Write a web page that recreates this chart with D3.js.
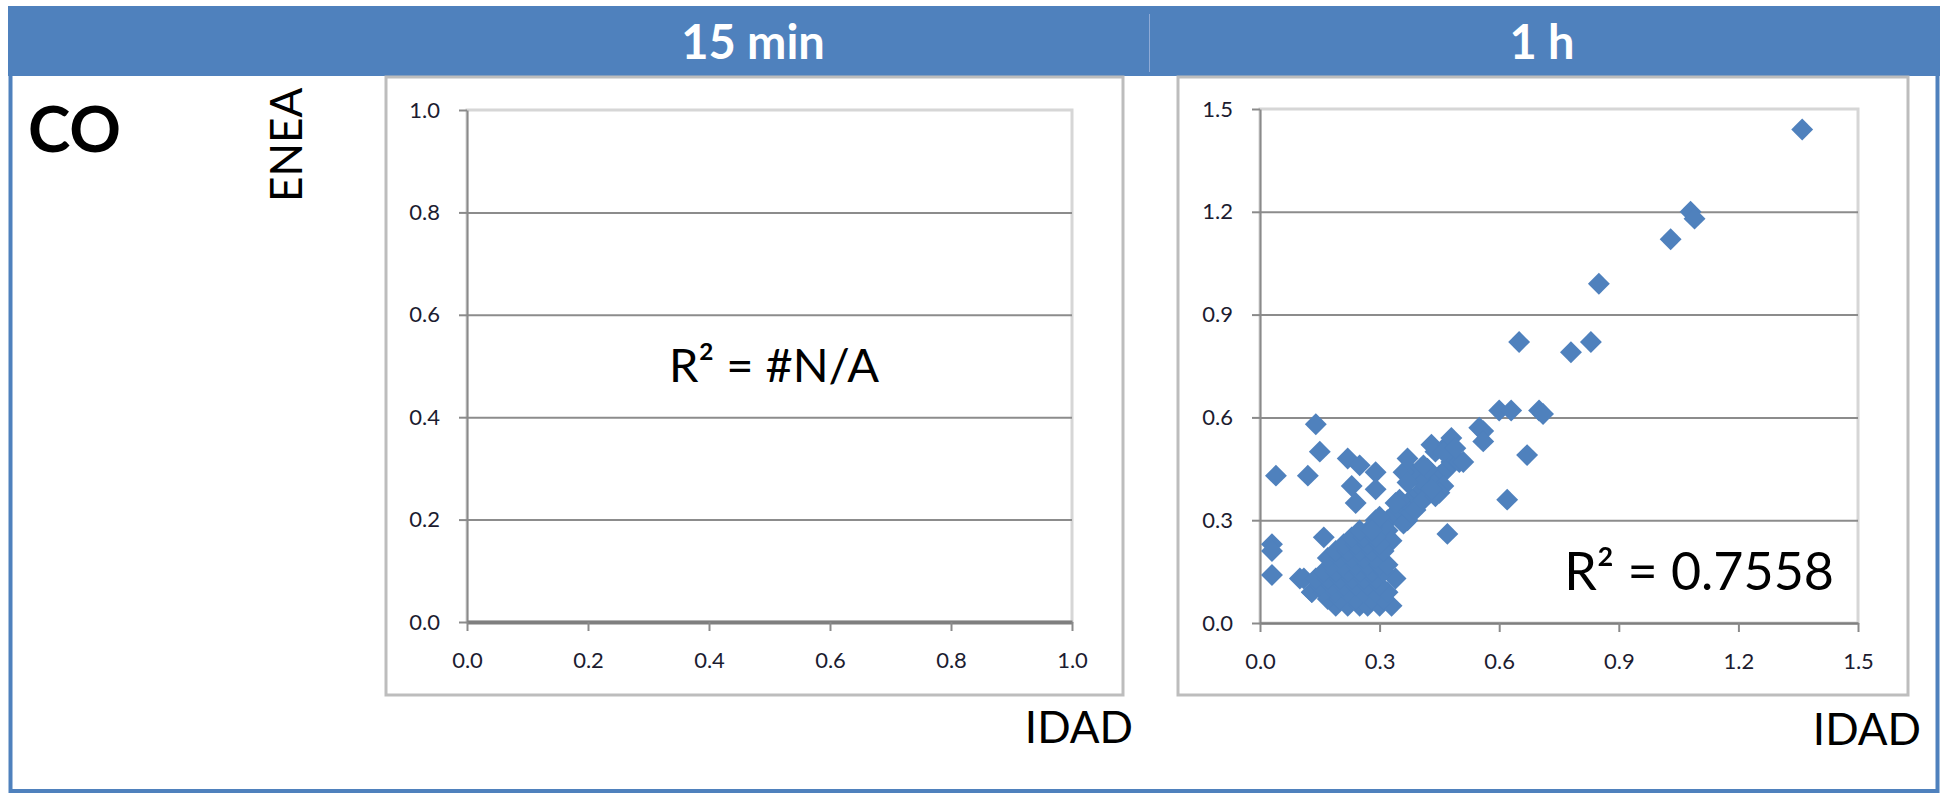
<!DOCTYPE html>
<html>
<head>
<meta charset="utf-8">
<script src="https://cdn.jsdelivr.net/npm/d3@7"></script>
<style>
  body { margin: 0; background: #fff; }
  text { font-family: Lato, "Open Sans", sans-serif; }
</style>
</head>
<body>
<div class="chart"></div>
<script>
// column titles and row label
var columnTitles = ["15 min", "1 h"];
var rowLabel = "CO";
var xLabel = "IDAD";
var yLabel = "ENEA";

// tick values for each panel
var ticks15 = [0, 0.2, 0.4, 0.6, 0.8, 1.0];
var ticks1h = [0, 0.3, 0.6, 0.9, 1.2, 1.5];

// R squared labels
var r2Labels = ["R\u00B2 = #N/A", "R\u00B2 = 0.7558"];

// 15 min: no valid pairs
var idad15 = [];
var enea15 = [];

// 1 h: IDAD (x) and ENEA (y)
var idad1h = [
  1.36, 1.08, 1.09, 1.03, 0.85, 0.83, 0.78, 0.65, 0.70, 0.71, 0.60, 0.63, 0.67, 0.62, 0.47,
  0.55, 0.56, 0.56, 0.14, 0.15, 0.04, 0.12, 0.22, 0.25, 0.23, 0.24, 0.29, 0.29, 0.03, 0.03,
  0.03, 0.16, 0.10, 0.13,
  // diagonal band
  0.30, 0.31, 0.32, 0.33, 0.34, 0.35, 0.36, 0.37, 0.38, 0.39, 0.40, 0.41, 0.42, 0.43, 0.44,
  0.45, 0.46, 0.47, 0.48, 0.49, 0.50, 0.46, 0.45, 0.44, 0.43, 0.47, 0.48, 0.46, 0.37, 0.36,
  0.38, 0.35, 0.34, 0.39, 0.41, 0.40, 0.38, 0.36, 0.37, 0.42, 0.44, 0.43, 0.31, 0.32, 0.33,
  0.29, 0.28, 0.30, 0.37, 0.41, 0.51, 0.49,
  // dense cluster
  0.19, 0.22, 0.25, 0.27, 0.30, 0.33,
  0.17, 0.20, 0.24, 0.28, 0.31,
  0.13, 0.16, 0.19, 0.22, 0.26, 0.29, 0.32,
  0.15, 0.18, 0.21, 0.24, 0.27, 0.30,
  0.11, 0.14, 0.17, 0.20, 0.23, 0.26, 0.29, 0.34,
  0.16, 0.19, 0.22, 0.25, 0.28, 0.31,
  0.18, 0.21, 0.24, 0.27, 0.30, 0.32,
  0.17, 0.20, 0.23, 0.26, 0.29,
  0.19, 0.22, 0.25, 0.28, 0.31,
  0.21, 0.24, 0.27, 0.30,
  0.23, 0.26, 0.29,
  0.25, 0.28
];
var enea1h = [
  1.44, 1.20, 1.18, 1.12, 0.99, 0.82, 0.79, 0.82, 0.62, 0.61, 0.62, 0.62, 0.49, 0.36, 0.26,
  0.57, 0.56, 0.53, 0.58, 0.50, 0.43, 0.43, 0.48, 0.46, 0.40, 0.35, 0.44, 0.39, 0.23, 0.21,
  0.14, 0.25, 0.13, 0.09,
  0.27, 0.29, 0.30, 0.31, 0.32, 0.33, 0.34, 0.35, 0.36, 0.37, 0.38, 0.39, 0.40, 0.41, 0.42,
  0.43, 0.44, 0.45, 0.47, 0.48, 0.47, 0.40, 0.38, 0.50, 0.52, 0.52, 0.54, 0.50, 0.30, 0.29,
  0.32, 0.36, 0.35, 0.33, 0.36, 0.42, 0.44, 0.44, 0.48, 0.45, 0.37, 0.39, 0.25, 0.27, 0.24,
  0.30, 0.28, 0.31, 0.41, 0.46, 0.47, 0.51,
  0.05, 0.05, 0.05, 0.05, 0.05, 0.05,
  0.07, 0.07, 0.07, 0.07, 0.07,
  0.09, 0.09, 0.09, 0.09, 0.09, 0.09, 0.09,
  0.11, 0.11, 0.11, 0.11, 0.11, 0.11,
  0.13, 0.13, 0.13, 0.13, 0.13, 0.13, 0.13, 0.13,
  0.15, 0.15, 0.15, 0.15, 0.15, 0.15,
  0.17, 0.17, 0.17, 0.17, 0.17, 0.17,
  0.19, 0.19, 0.19, 0.19, 0.19,
  0.21, 0.21, 0.21, 0.21, 0.21,
  0.23, 0.23, 0.23, 0.23,
  0.25, 0.25, 0.25,
  0.27, 0.27
];

var blue = "#4F81BD";

var svg = d3.select(".chart").append("svg")
  .attr("width", 1948)
  .attr("height", 794);

// outer frame and header band
svg.append("rect")
  .attr("x", 10.5).attr("y", 8).attr("width", 1927).attr("height", 783)
  .style("fill", "none").style("stroke", blue).style("stroke-width", 4);
svg.append("rect")
  .attr("x", 8).attr("y", 6).attr("width", 1932).attr("height", 70)
  .style("fill", blue);
svg.append("line")
  .attr("x1", 1149.5).attr("x2", 1149.5).attr("y1", 14).attr("y2", 72)
  .style("stroke", "#8eaad6").style("stroke-width", 1);

svg.selectAll(".colTitle")
  .data(columnTitles)
  .enter()
  .append("text")
  .attr("class", "colTitle")
  .attr("x", function (d, i) { return [753, 1542][i]; })
  .attr("y", 59)
  .attr("text-anchor", "middle")
  .style("font-size", "47px")
  .style("font-weight", "bold")
  .style("fill", "#fff")
  .text(function (d) { return d; });

// row label and y title
svg.append("text")
  .attr("x", 28).attr("y", 152)
  .style("font-size", "64px").style("font-weight", "bold").style("fill", "#000")
  .text(rowLabel);
svg.append("text")
  .attr("transform", "translate(302,202) rotate(-90)")
  .style("font-size", "44px").style("fill", "#000")
  .text(yLabel);

// panel settings
var panels = [
  { box: [386, 77, 737, 618], left: 467, right: 1072, top: 110, bottom: 622,
    max: 1.0, ticks: ticks15, xs: idad15, ys: enea15, r2: r2Labels[0],
    r2x: 774, r2y: 382, r2size: 47, xAxisWidth: 4, idadX: 1133, idadY: 743 },
  { box: [1178, 77, 730, 618], left: 1260, right: 1858, top: 109, bottom: 623,
    max: 1.5, ticks: ticks1h, xs: idad1h, ys: enea1h, r2: r2Labels[1],
    r2x: 1834, r2y: 590, r2size: 52, xAxisWidth: 2.5, idadX: 1921, idadY: 745 }
];

panels.forEach(function (p) {

  // chart area border
  svg.append("rect")
    .attr("x", p.box[0]).attr("y", p.box[1])
    .attr("width", p.box[2]).attr("height", p.box[3])
    .style("fill", "#fff").style("stroke", "#bdbdbd").style("stroke-width", 3);

  var w = p.right - p.left;
  var h = p.bottom - p.top;

  var x = d3.scaleLinear().domain([0, p.max]).range([0, w]);
  var y = d3.scaleLinear().domain([0, p.max]).range([h, 0]);

  var g = svg.append("g")
    .attr("transform", "translate(" + p.left + "," + p.top + ")");

  // plot area border (light)
  g.append("rect")
    .attr("x", 0).attr("y", 0).attr("width", w).attr("height", h)
    .style("fill", "none").style("stroke", "#d6d6d6").style("stroke-width", 3);

  // horizontal gridlines
  var grid = g.append("g")
    .call(d3.axisLeft(y).tickValues(p.ticks.slice(1, -1)).tickSize(-w).tickFormat(""));
  grid.select(".domain").remove();
  grid.selectAll("line").style("stroke", "#8c8c8c").style("stroke-width", 2);

  // y axis
  var yAxis = g.append("g")
    .call(d3.axisLeft(y).tickValues(p.ticks).tickSize(8).tickSizeOuter(0)
      .tickPadding(19).tickFormat(d3.format(".1f")));
  yAxis.select(".domain").style("stroke", "#8a8a8a").style("stroke-width", 2);
  yAxis.selectAll("line").style("stroke", "#8a8a8a").style("stroke-width", 2);
  yAxis.selectAll("text")
    .style("font-family", "Lato, sans-serif").style("font-size", "22px")
    .style("fill", "#1c1c30");

  // x axis
  var xAxis = g.append("g")
    .attr("transform", "translate(0," + h + ")")
    .call(d3.axisBottom(x).tickValues(p.ticks).tickSize(9).tickSizeOuter(0)
      .tickPadding(21).tickFormat(d3.format(".1f")));
  xAxis.select(".domain").style("stroke", "#7f7f7f").style("stroke-width", p.xAxisWidth);
  xAxis.selectAll("line").style("stroke", "#8a8a8a").style("stroke-width", 2);
  xAxis.selectAll("text")
    .style("font-family", "Lato, sans-serif").style("font-size", "22px")
    .style("fill", "#1c1c30");

  // diamonds
  var pts = p.xs.map(function (v, i) { return { x: v, y: p.ys[i] }; });
  g.selectAll(".pt")
    .data(pts)
    .enter()
    .append("path")
    .attr("class", "pt")
    .attr("d", d3.symbol(d3.symbolSquare, 240))
    .attr("transform", function (d) {
      return "translate(" + x(d.x) + "," + y(d.y) + ") rotate(45)";
    })
    .style("fill", blue);

  // R squared label
  svg.append("text")
    .attr("x", p.r2x).attr("y", p.r2y)
    .attr("text-anchor", p.max > 1 ? "end" : "middle")
    .style("font-size", p.r2size + "px").style("fill", "#000")
    .text(p.r2);

  // x title
  svg.append("text")
    .attr("x", p.idadX).attr("y", p.idadY)
    .attr("text-anchor", "end")
    .style("font-size", "44px").style("fill", "#000")
    .text(xLabel);
});
</script>
</body>
</html>
